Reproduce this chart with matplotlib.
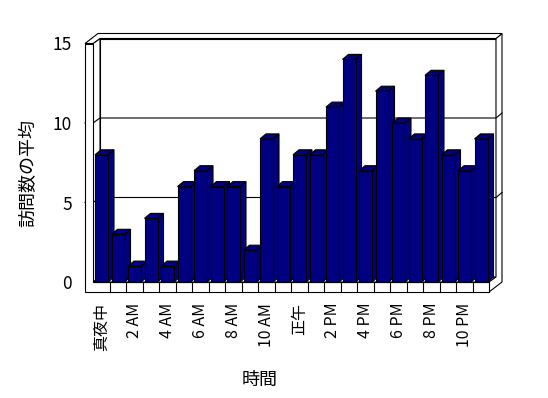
import matplotlib
matplotlib.use("Agg")
import matplotlib.pyplot as plt
from matplotlib.patches import Polygon

plt.rcParams['font.family'] = ['Noto Sans CJK JP', 'DejaVu Sans']

# data
hours = list(range(24))
visits = [8, 3, 1, 4, 1, 6, 7, 6, 6, 2, 9, 6, 8, 8, 11, 14, 7, 12, 10, 9, 13, 8, 7, 9]
tick_pos = list(range(0, 24, 2))
tick_labels = ['真夜中', '2 AM', '4 AM', '6 AM', '8 AM', '10 AM',
               '正午', '2 PM', '4 PM', '6 PM', '8 PM', '10 PM']
y_ticks = [0, 5, 10, 15]
y_max = 15

# geometry (pixels -> data units)
W, H = 548, 398
SX = 396 / 24          # px per category
SY = 15.9              # px per unit value
px = 1 / SX
py = 1 / SY
D1 = (7 * px, 5 * py)      # depth to back wall face
D2 = (13 * px, 10 * py)    # depth to back of wall slab
DB = (6 * px, 5 * py)      # bar depth
WALL = 8 * px              # left wall thickness
FT = 10 * py               # floor thickness
BAR_OFF = 2 * px
BAR_W = 13 * px
LW = 0.8
NAVY = '#000080'

fig = plt.figure(figsize=(W / 100, H / 100), dpi=100)
ax = fig.add_axes([93 / W, 116 / H, 396 / W, y_max * SY / H])
n = len(visits)
x0, x1 = -0.5, n - 0.5
ax.set_xlim(x0, x1)
ax.set_ylim(0, y_max)
ax.patch.set_visible(False)
for s in ax.spines.values():
    s.set_visible(False)


def poly(pts, fc='white', z=1):
    ax.add_patch(Polygon(pts, closed=True, facecolor=fc, edgecolor='black',
                         lw=LW, clip_on=False, zorder=z, joinstyle='miter'))


def line(xs, ys, z=2):
    ax.plot(xs, ys, color='black', lw=LW, clip_on=False, zorder=z)


# back wall
poly([(x0 + D1[0], D1[1]), (x1 + D1[0], D1[1]),
      (x1 + D1[0], y_max + D1[1]), (x0 + D1[0], y_max + D1[1])], z=1)
# floor top
poly([(x0, 0), (x1, 0), (x1 + D1[0], D1[1]), (x0 + D1[0], D1[1])], z=1)
# left wall inner face
poly([(x0, 0), (x0, y_max), (x0 + D1[0], y_max + D1[1]), (x0 + D1[0], D1[1])], z=1)
# right side of wall + floor
poly([(x1 + D1[0], y_max + D1[1]), (x1 + D2[0], y_max + D2[1]),
      (x1 + D2[0], -FT + D2[1]), (x1, -FT), (x1, 0), (x1 + D1[0], D1[1])], z=1)
# top of walls
poly([(x0 - WALL, y_max), (x0, y_max), (x0 + D1[0], y_max + D1[1]),
      (x1 + D1[0], y_max + D1[1]), (x1 + D2[0], y_max + D2[1]),
      (x0 - WALL + D2[0], y_max + D2[1])], z=1)

# gridlines
for v in y_ticks[1:-1]:
    line([x0 - WALL, x0, x0 + D1[0], x1 + D1[0], x1 + D2[0]],
         [v, v, v + D1[1], v + D1[1], v + D2[1]], z=2)

# front faces of left wall and floor
poly([(x0 - WALL, -FT), (x1, -FT), (x1, 0), (x0, 0), (x0, y_max), (x0 - WALL, y_max)], z=3)
for k in range(1, n):
    line([k - 0.5, k - 0.5], [-FT, 0], z=3)

# bars
for i, v in enumerate(visits):
    xl = hours[i] - 0.5 + BAR_OFF
    xr = xl + BAR_W
    z = 10 + i
    poly([(xr, 0), (xr, v), (xr + DB[0], v + DB[1]), (xr + DB[0], DB[1])], fc=NAVY, z=z)
    poly([(xl, v), (xr, v), (xr + DB[0], v + DB[1]), (xl + DB[0], v + DB[1])], fc=NAVY, z=z)
    poly([(xl, 0), (xr, 0), (xr, v), (xl, v)], fc=NAVY, z=z)

# ticks and labels
ax.set_xticks(tick_pos)
ax.set_xticklabels(tick_labels, rotation=90, fontsize=11.5, va='top')
ax.set_yticks(y_ticks)
ax.set_yticklabels([str(t) for t in y_ticks], fontsize=12.5)
ax.tick_params(axis='x', length=0, pad=15)
ax.tick_params(axis='y', length=0, pad=15)

ax.set_ylabel('訪問数の平均', fontsize=13)
ax.yaxis.set_label_coords((28 - 93) / 396, (282 - 173) / (y_max * SY))
ax.set_xlabel('時間', fontsize=13)
ax.xaxis.set_label_coords((260 - 93) / 396, (282 - 380) / (y_max * SY))
ax.xaxis.label.set_va('center')
ax.yaxis.label.set_va('center')

fig.savefig('out.png', dpi=100)
